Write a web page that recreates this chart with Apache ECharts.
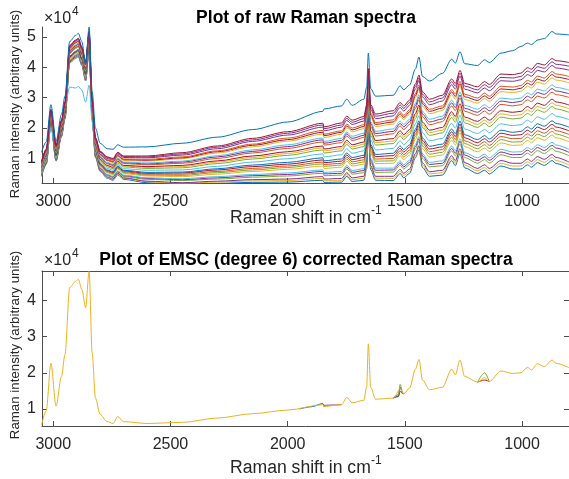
<!DOCTYPE html>
<html><head><meta charset="utf-8">
<script src="https://cdn.jsdelivr.net/npm/echarts@6/dist/echarts.min.js"></script>
<style>html,body{margin:0;padding:0;background:#fff}#c{width:569px;height:479px}</style>
</head><body><div id="c"></div><script>
// Raman shift axis (cm^-1) sample positions
const wavenumber = [3050,3030,3010,2988,2965,2950,2930,2905,2893,2878,2862,2847,2834,2820,2800,2770,2745,2725,2700,2600,2450,2300,2150,2000,1850,1845,1770,1748,1725,1675,1663,1656,1646,1625,1550,1520,1505,1480,1455,1440,1425,1395,1340,1300,1285,1265,1245,1190,1160,1140,1090,1040,1005,977,960,935,905,872,855,800];

// Raw spectra (units of 1e4)
const raw01 = [0.41,0.80,2.10,0.91,1.71,2.30,4.14,4.30,4.35,4.06,3.55,4.54,2.29,1.03,0.57,0.35,0.28,0.46,0.31,0.20,0.14,0.18,0.21,0.22,0.28,0.21,0.22,0.41,0.24,0.28,0.66,1.83,0.63,0.28,0.27,0.50,0.36,0.51,1.02,1.28,0.70,0.41,0.45,0.93,0.76,1.16,0.69,0.50,0.61,0.49,0.75,0.65,0.65,0.79,0.71,0.86,0.77,0.93,0.83,0.68];
const raw01b = [0.43,0.82,2.12,0.93,1.73,2.32,4.16,4.32,4.37,4.08,3.57,4.56,2.31,1.05,0.59,0.37,0.30,0.49,0.34,0.23,0.17,0.22,0.26,0.27,0.34,0.27,0.28,0.47,0.30,0.35,0.72,1.90,0.70,0.35,0.34,0.57,0.44,0.58,1.09,1.35,0.78,0.49,0.53,1.01,0.84,1.24,0.78,0.59,0.70,0.58,0.84,0.75,0.75,0.89,0.81,0.96,0.87,1.03,0.93,0.78];
const raw02 = [0.44,0.83,2.13,0.94,1.74,2.33,4.18,4.34,4.39,4.10,3.59,4.58,2.32,1.07,0.61,0.39,0.32,0.51,0.36,0.25,0.20,0.25,0.30,0.32,0.40,0.32,0.34,0.53,0.36,0.41,0.78,1.96,0.76,0.41,0.41,0.64,0.51,0.65,1.16,1.42,0.85,0.56,0.61,1.09,0.92,1.32,0.86,0.67,0.79,0.67,0.93,0.84,0.84,0.98,0.90,1.06,0.97,1.13,1.03,0.88];
const raw03 = [0.47,0.86,2.16,0.97,1.78,2.37,4.21,4.37,4.42,4.13,3.63,4.62,2.36,1.11,0.65,0.43,0.37,0.55,0.40,0.31,0.27,0.32,0.38,0.42,0.51,0.43,0.45,0.65,0.48,0.53,0.91,2.09,0.88,0.54,0.55,0.78,0.65,0.80,1.31,1.57,1.00,0.72,0.76,1.25,1.08,1.48,1.03,0.84,0.96,0.85,1.12,1.03,1.03,1.17,1.10,1.26,1.16,1.33,1.23,1.09];
const raw03b = [0.49,0.88,2.18,0.99,1.80,2.39,4.23,4.39,4.44,4.15,3.65,4.64,2.38,1.13,0.67,0.46,0.39,0.57,0.43,0.34,0.30,0.36,0.43,0.47,0.57,0.49,0.51,0.71,0.54,0.60,0.98,2.15,0.95,0.61,0.62,0.85,0.72,0.87,1.39,1.65,1.08,0.80,0.84,1.33,1.17,1.57,1.11,0.93,1.05,0.94,1.21,1.12,1.13,1.27,1.20,1.36,1.26,1.43,1.34,1.20];
const raw04 = [0.50,0.89,2.19,1.00,1.81,2.40,4.24,4.41,4.46,4.17,3.66,4.66,2.40,1.15,0.69,0.48,0.41,0.59,0.45,0.36,0.33,0.40,0.47,0.52,0.62,0.54,0.57,0.77,0.60,0.66,1.04,2.21,1.01,0.68,0.68,0.92,0.79,0.94,1.46,1.72,1.15,0.87,0.92,1.41,1.25,1.65,1.19,1.02,1.14,1.02,1.30,1.21,1.22,1.36,1.29,1.45,1.36,1.53,1.44,1.30];
const raw05 = [0.53,0.93,2.23,1.04,1.85,2.44,4.29,4.45,4.50,4.22,3.71,4.70,2.45,1.20,0.73,0.53,0.46,0.65,0.50,0.42,0.40,0.48,0.57,0.64,0.75,0.67,0.71,0.91,0.75,0.81,1.19,2.36,1.16,0.83,0.84,1.09,0.96,1.11,1.63,1.89,1.32,1.05,1.11,1.60,1.44,1.84,1.39,1.22,1.34,1.23,1.51,1.43,1.44,1.59,1.52,1.68,1.60,1.77,1.68,1.55];
const raw05b = [0.55,0.95,2.25,1.06,1.87,2.46,4.31,4.47,4.52,4.24,3.73,4.73,2.47,1.22,0.76,0.55,0.49,0.68,0.53,0.45,0.44,0.53,0.62,0.70,0.82,0.74,0.78,0.98,0.82,0.88,1.26,2.44,1.24,0.91,0.92,1.17,1.04,1.20,1.72,1.98,1.41,1.14,1.20,1.70,1.53,1.94,1.49,1.32,1.45,1.33,1.62,1.54,1.55,1.70,1.63,1.80,1.72,1.89,1.80,1.67];
const raw06 = [0.57,0.96,2.27,1.08,1.89,2.48,4.33,4.49,4.54,4.26,3.75,4.75,2.49,1.24,0.78,0.57,0.51,0.70,0.56,0.48,0.48,0.57,0.67,0.75,0.88,0.80,0.84,1.04,0.89,0.95,1.33,2.51,1.31,0.98,1.00,1.25,1.12,1.28,1.80,2.07,1.50,1.22,1.29,1.79,1.62,2.03,1.58,1.42,1.55,1.43,1.72,1.65,1.66,1.81,1.74,1.91,1.83,2.00,1.91,1.79];
const raw06b = [0.59,0.98,2.29,1.10,1.91,2.50,4.35,4.51,4.57,4.28,3.78,4.77,2.52,1.27,0.81,0.60,0.54,0.73,0.59,0.51,0.52,0.62,0.73,0.81,0.95,0.86,0.91,1.11,0.96,1.03,1.41,2.59,1.39,1.06,1.09,1.33,1.21,1.37,1.89,2.16,1.59,1.31,1.38,1.88,1.72,2.13,1.68,1.52,1.65,1.54,1.83,1.76,1.78,1.93,1.86,2.03,1.95,2.12,2.03,1.91];
const raw07 = [0.60,1.00,2.30,1.11,1.93,2.52,4.37,4.53,4.59,4.30,3.80,4.79,2.54,1.29,0.83,0.62,0.56,0.75,0.61,0.54,0.55,0.66,0.78,0.87,1.02,0.92,0.98,1.18,1.03,1.10,1.48,2.66,1.46,1.13,1.17,1.41,1.29,1.45,1.97,2.24,1.67,1.40,1.47,1.97,1.81,2.23,1.78,1.62,1.75,1.64,1.93,1.86,1.89,2.04,1.97,2.14,2.06,2.24,2.15,2.03];
const raw08 = [0.60,1.00,2.00,1.20,2.00,2.70,3.35,3.32,3.37,3.25,2.85,3.42,2.20,1.30,0.88,0.67,0.61,0.80,0.66,0.61,0.62,0.74,0.88,0.99,1.15,1.05,1.12,1.32,1.17,1.25,1.63,2.81,1.61,1.28,1.33,1.58,1.45,1.62,2.14,2.41,1.84,1.58,1.66,2.16,2.00,2.42,1.97,1.82,1.95,1.85,2.14,2.08,2.11,2.26,2.19,2.37,2.29,2.48,2.39,2.28];
const raw09 = [0.67,1.07,2.38,1.19,2.00,2.60,4.45,4.62,4.67,4.39,3.88,4.88,2.63,1.38,0.92,0.72,0.66,0.85,0.72,0.67,0.69,0.83,0.98,1.10,1.28,1.18,1.25,1.46,1.31,1.39,1.78,2.96,1.76,1.44,1.49,1.74,1.62,1.79,2.31,2.59,2.02,1.76,1.84,2.35,2.19,2.61,2.17,2.02,2.16,2.05,2.36,2.30,2.33,2.48,2.42,2.60,2.52,2.71,2.63,2.52];
const raw09b = [0.69,1.09,2.40,1.21,2.02,2.62,4.47,4.64,4.69,4.41,3.91,4.91,2.66,1.41,0.95,0.75,0.69,0.88,0.75,0.70,0.73,0.88,1.03,1.16,1.35,1.25,1.32,1.53,1.38,1.47,1.86,3.04,1.84,1.52,1.57,1.83,1.70,1.87,2.40,2.68,2.11,1.85,1.93,2.45,2.29,2.71,2.27,2.12,2.26,2.16,2.47,2.41,2.44,2.60,2.53,2.71,2.64,2.83,2.75,2.64];
const raw10 = [0.70,1.10,2.41,1.23,2.04,2.64,4.49,4.66,4.71,4.43,3.93,4.93,2.68,1.43,0.97,0.77,0.71,0.91,0.77,0.73,0.77,0.92,1.08,1.22,1.41,1.31,1.39,1.60,1.45,1.54,1.93,3.11,1.91,1.59,1.65,1.91,1.78,1.95,2.48,2.76,2.19,1.93,2.02,2.54,2.38,2.80,2.36,2.22,2.36,2.26,2.57,2.52,2.55,2.71,2.64,2.82,2.75,2.95,2.86,2.76];
const raw11 = [0.74,1.14,2.45,1.26,2.08,2.68,4.53,4.70,4.76,4.48,3.97,4.97,2.72,1.47,1.02,0.82,0.76,0.96,0.83,0.79,0.84,1.00,1.18,1.33,1.54,1.44,1.52,1.74,1.59,1.69,2.07,3.26,2.06,1.74,1.81,2.07,1.95,2.12,2.65,2.93,2.37,2.11,2.21,2.73,2.57,2.99,2.55,2.42,2.56,2.46,2.78,2.73,2.77,2.93,2.87,3.05,2.99,3.18,3.10,3.01];
const raw11b = [0.76,1.16,2.47,1.28,2.10,2.70,4.55,4.72,4.78,4.50,4.00,5.00,2.75,1.50,1.05,0.85,0.79,0.99,0.86,0.82,0.88,1.05,1.23,1.39,1.61,1.50,1.59,1.81,1.66,1.76,2.15,3.34,2.14,1.82,1.89,2.15,2.04,2.21,2.74,3.02,2.46,2.20,2.30,2.83,2.67,3.09,2.65,2.52,2.67,2.57,2.89,2.84,2.88,3.05,2.99,3.17,3.11,3.30,3.22,3.13];
const raw12 = [0.77,1.17,2.49,1.30,2.12,2.72,4.57,4.74,4.80,4.52,4.02,5.02,2.77,1.52,1.07,0.87,0.81,1.01,0.88,0.85,0.91,1.09,1.28,1.45,1.67,1.56,1.66,1.87,1.73,1.83,2.22,3.41,2.21,1.89,1.97,2.23,2.12,2.29,2.82,3.10,2.54,2.29,2.39,2.92,2.76,3.19,2.75,2.62,2.77,2.67,2.99,2.95,2.99,3.16,3.10,3.28,3.22,3.42,3.34,3.25];
const raw13 = [0.81,1.21,2.52,1.34,2.16,2.76,4.61,4.79,4.84,4.56,4.06,5.06,2.81,1.57,1.11,0.92,0.86,1.06,0.93,0.91,0.99,1.18,1.38,1.57,1.80,1.69,1.80,2.01,1.88,1.98,2.37,3.55,2.36,2.05,2.13,2.40,2.28,2.46,3.00,3.28,2.72,2.47,2.58,3.10,2.95,3.38,2.94,2.82,2.97,2.88,3.20,3.17,3.21,3.38,3.32,3.51,3.45,3.65,3.58,3.49];
const raw13b = [0.83,1.23,2.54,1.36,2.18,2.78,4.63,4.81,4.86,4.58,4.08,5.08,2.83,1.59,1.13,0.94,0.89,1.09,0.96,0.94,1.02,1.22,1.43,1.62,1.86,1.75,1.86,2.07,1.94,2.05,2.44,3.62,2.43,2.12,2.20,2.47,2.35,2.53,3.07,3.35,2.80,2.55,2.66,3.19,3.04,3.46,3.03,2.91,3.06,2.97,3.29,3.26,3.31,3.48,3.42,3.61,3.55,3.76,3.68,3.60];
const raw14 = [0.84,1.24,2.55,1.37,2.19,2.79,4.65,4.82,4.88,4.60,4.10,5.10,2.85,1.61,1.15,0.96,0.91,1.11,0.98,0.97,1.05,1.25,1.47,1.67,1.92,1.80,1.91,2.13,2.00,2.11,2.50,3.68,2.49,2.18,2.27,2.54,2.42,2.60,3.14,3.42,2.87,2.62,2.73,3.27,3.12,3.54,3.11,2.99,3.15,3.05,3.38,3.35,3.40,3.57,3.52,3.71,3.65,3.86,3.78,3.70];
const raw15 = [0.87,1.27,2.58,1.40,2.22,2.83,4.68,4.86,4.92,4.64,4.14,5.14,2.89,1.65,1.20,1.00,0.95,1.15,1.03,1.02,1.11,1.32,1.56,1.77,2.03,1.91,2.03,2.25,2.12,2.23,2.62,3.81,2.62,2.31,2.40,2.68,2.56,2.75,3.29,3.57,3.02,2.77,2.89,3.43,3.28,3.71,3.28,3.16,3.32,3.23,3.56,3.54,3.59,3.76,3.71,3.90,3.85,4.06,3.98,3.91];
const raw15b = [0.89,1.29,2.60,1.42,2.24,2.85,4.70,4.88,4.94,4.66,4.16,5.16,2.92,1.67,1.22,1.03,0.98,1.18,1.06,1.05,1.15,1.37,1.61,1.83,2.10,1.98,2.10,2.32,2.19,2.31,2.70,3.89,2.70,2.39,2.49,2.76,2.65,2.84,3.38,3.66,3.11,2.86,2.99,3.53,3.38,3.81,3.38,3.26,3.43,3.34,3.67,3.65,3.70,3.88,3.83,4.02,3.97,4.18,4.10,4.04];
const raw16 = [0.90,1.31,2.62,1.44,2.26,2.87,4.72,4.90,4.96,4.68,4.18,5.18,2.94,1.69,1.24,1.05,1.00,1.20,1.08,1.08,1.19,1.41,1.66,1.88,2.16,2.04,2.17,2.39,2.26,2.38,2.77,3.96,2.77,2.46,2.57,2.84,2.73,2.92,3.46,3.75,3.19,2.95,3.08,3.62,3.47,3.90,3.47,3.36,3.53,3.44,3.78,3.76,3.81,3.99,3.94,4.13,4.08,4.29,4.22,4.16];
const rawOutlier = [1.20,1.55,2.77,1.56,2.45,3.05,4.85,5.05,5.12,4.85,4.10,5.33,3.20,2.00,1.50,1.32,1.30,1.45,1.37,1.38,1.50,1.70,1.95,2.20,2.55,2.63,2.73,2.95,2.75,2.95,3.35,4.47,3.30,3.05,3.08,3.39,3.26,3.42,3.95,4.34,3.70,3.55,3.80,4.27,4.14,4.52,4.12,4.06,4.25,4.16,4.47,4.55,4.69,4.80,4.75,4.90,4.95,5.18,5.10,5.07];

// EMSC corrected spectrum (units of 1e4)
const corrected = [0.55,0.95,2.26,1.08,1.90,2.50,4.35,4.52,4.58,4.30,3.80,4.80,2.55,1.30,0.85,0.65,0.60,0.79,0.65,0.60,0.63,0.75,0.87,0.97,1.12,1.07,1.12,1.32,1.17,1.24,1.62,2.80,1.60,1.27,1.30,1.55,1.42,1.58,2.10,2.37,1.80,1.53,1.60,2.10,1.94,2.35,1.90,1.74,1.87,1.76,2.05,1.98,2.00,2.15,2.08,2.25,2.17,2.35,2.26,2.14];
// small deviations of individual corrected spectra
const devStepWn = [1950,1900,1850,1845];
const devStepBlue = [1.00,1.06,1.15,1.06];
const devStep2Wn = [1845,1800,1770];
const devStep2Purple = [1.10,1.11,1.12];
const dev1520Wn = [1550,1528,1520,1510,1505];
const dev1520Green = [1.30,1.40,1.68,1.46,1.42];
const dev1520Purple = [1.30,1.36,1.60,1.44,1.42];
const dev1520Blue = [1.30,1.34,1.49,1.43,1.42];
const dev1160Wn = [1190,1160,1140];
const dev1160Green = [1.74,2.00,1.76];
const dev1160Red = [1.74,1.80,1.76];

const xTicks = [1000,1500,2000,2500,3000];
const topYTicks = [1,2,3,4,5];
const botYTicks = [1,2,3,4];

const C = {blue:'#0072BD',orange:'#D95319',yellow:'#EDB120',purple:'#7E2F8E',green:'#77AC30',cyan:'#4DBEEE',red:'#A2142F'};
const FONT = '"Liberation Sans", Arial, Helvetica, sans-serif';
const AX = '#4d4d4d', TXT = '#262626';

const rawList = [
  [raw01,C.blue],[raw01b,C.yellow],[raw02,C.purple],[raw03,C.green],[raw03b,C.purple],[raw04,C.cyan],
  [raw05,C.yellow],[raw05b,C.green],[raw06,C.orange],[raw06b,C.red],[raw07,C.blue],[raw08,C.cyan],
  [raw09,C.green],[raw09b,C.yellow],[raw10,C.red],[raw11,C.orange],[raw11b,C.purple],[raw12,C.cyan],
  [raw13,C.yellow],[raw13b,C.red],[raw14,C.orange],[raw15,C.purple],[raw15b,C.purple],[raw16,C.red],
  [rawOutlier,C.blue]
];

function pairs(wn, vals){ return wn.map((w,i)=>[w, vals[i]]); }
function line(data, color, xi, yi, sm){
  return {type:'line', xAxisIndex:xi, yAxisIndex:yi, data:data, symbol:'none', silent:true,
    smooth: sm, smoothMonotone:'x',
    lineStyle:{color:color, width:1}, itemStyle:{color:color}, clip:true, animation:false};
}

const series = [];
rawList.forEach(([v,c])=>series.push(line(pairs(wavenumber,v), c, 0, 0, 0.3)));
series.push(line(pairs(devStepWn,devStepBlue), C.blue, 1, 1, 0.3));
series.push(line(pairs(devStep2Wn,devStep2Purple), C.purple, 1, 1, 0.3));
series.push(line(pairs(dev1520Wn,dev1520Blue), C.blue, 1, 1, 0.3));
series.push(line(pairs(dev1520Wn,dev1520Purple), C.purple, 1, 1, 0.3));
series.push(line(pairs(dev1520Wn,dev1520Green), C.green, 1, 1, 0.3));
series.push(line(pairs(dev1160Wn,dev1160Red), C.red, 1, 1, 0.3));
series.push(line(pairs(dev1160Wn,dev1160Green), C.green, 1, 1, 0.3));
series.push(line(pairs(wavenumber,corrected), C.yellow, 1, 1, 0.3));

function xAx(g, pos, showLabel){
  return {type:'value', gridIndex:g, position:pos, min:800, max:3048, inverse:true,
    axisLine:{show:true, onZero:false, lineStyle:{color:AX, width:1}},
    axisTick:{show:true, inside:true, length:5, customValues:xTicks, lineStyle:{color:AX}},
    axisLabel:{show:showLabel, customValues:xTicks, fontSize:16, color:TXT, margin:11, fontFamily:FONT,
      formatter:(v)=>String(v)},
    splitLine:{show:false}};
}
function yAx(g, pos, min, max, ticks, showLabel){
  return {type:'value', gridIndex:g, position:pos, min:min, max:max,
    axisLine:{show:true, onZero:false, lineStyle:{color:AX, width:1}},
    axisTick:{show:true, inside:true, length:5, customValues:ticks, lineStyle:{color:AX}},
    axisLabel:{show:showLabel, customValues:ticks, fontSize:16, color:TXT, margin:6, fontFamily:FONT,
      formatter:(v)=>String(v)},
    splitLine:{show:false}};
}

function txt(x,y,text,font,opts){
  return Object.assign({type:'text', x:x, y:y, silent:true,
    style:{text:text, font:font, fill:(opts&&opts.fill)||TXT, align:(opts&&opts.align)||'left', verticalAlign:'middle',
      textAlign:(opts&&opts.align)||'left', textVerticalAlign:'middle'}}, (opts&&opts.rot)?{rotation:opts.rot}:{});
}

const chart = echarts.init(document.getElementById('c'), null, {renderer:'canvas'});
chart.setOption({
  backgroundColor:'#ffffff',
  animation:false,
  grid:[
    {left:42, top:27, width:527, height:156, containLabel:false},
    {left:42, top:271, width:527, height:155, containLabel:false}
  ],
  xAxis:[ xAx(0,'bottom',true), xAx(1,'bottom',true), xAx(1,'top',false) ],
  yAxis:[ yAx(0,'left',0.19,5.33,topYTicks,true), yAx(1,'left',0.53,4.81,botYTicks,true), yAx(1,'right',0.53,4.81,botYTicks,false) ],
  series: series,
  graphic:[
    txt(306,18,'Plot of raw Raman spectra','bold 17.5px '+FONT,{align:'center',fill:'#000'}),
    txt(306,260.5,'Plot of EMSC (degree 6) corrected Raman spectra','bold 17.5px '+FONT,{align:'center',fill:'#000'}),
    txt(44,18.5,'\u00d710','16px '+FONT),
    txt(72,12,'4','12px '+FONT),
    txt(44,261,'\u00d710','16px '+FONT),
    txt(72,254,'4','12px '+FONT),
    txt(230,218,'Raman shift in cm','17.6px '+FONT),
    txt(371,211,'-1','12px '+FONT),
    txt(230,468,'Raman shift in cm','17.6px '+FONT),
    txt(371,461,'-1','12px '+FONT),
    txt(15,104,'Raman intensity (arbitrary units)','13.3px '+FONT,{align:'center',rot:Math.PI/2}),
    txt(15,345,'Raman intensity (arbitrary units)','13.3px '+FONT,{align:'center',rot:Math.PI/2})
  ]
});
</script></body></html>
